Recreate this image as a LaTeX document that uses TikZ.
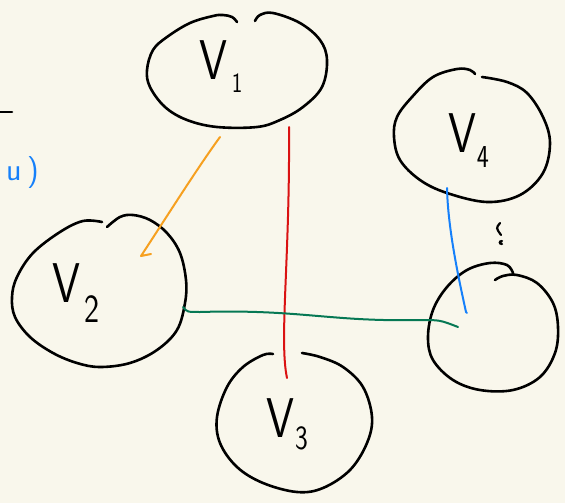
\documentclass[tikz,border=0pt]{standalone}
\usepackage{fontspec}
\definecolor{paper}{RGB}{249,247,236}
\definecolor{penorange}{RGB}{246,160,32}
\definecolor{penred}{RGB}{218,18,18}
\definecolor{pengreen}{RGB}{6,120,84}
\definecolor{penblue}{RGB}{22,128,250}
\newcommand\digitfont[1]{\fontsize{#1}{#1}\selectfont}
\begin{document}
\begin{tikzpicture}[x=1pt,y=-1pt,
  ink/.style={line width=2.6pt, line cap=round, line join=round},
  edge/.style={line width=2pt, line cap=round, line join=round},
  lbl/.style={font=\fontsize{56}{56}\selectfont\sffamily, inner sep=0pt, anchor=base west, xscale=0.8},
  hand/.style={smooth, tension=0.6}]
  \fill[paper] (0,0) rectangle (565,503);
  \useasboundingbox (0,0) rectangle (565,503);

  % vertex outlines
  \draw[ink] plot[hand] coordinates {(237,22) (232,17) (223,15) (213,16) (190,23) (167,37)
    (153,50) (147,70) (150,87) (165,107) (187,120) (217,127) (257,127) (280,120)
    (303,107) (322,87) (327,60) (320,40) (300,23) (273,13) (260,15) (255,21)};
  \draw[ink] plot[hand] coordinates {(102,222) (83,221) (60,232) (33,253) (17,277) (12,297)
    (15,317) (30,337) (53,353) (77,363) (100,367) (130,363) (157,350) (177,330)
    (185,303) (186,280) (180,253) (167,233) (150,220) (133,215) (120,217) (107,227)};
  \draw[ink] plot[hand] coordinates {(273,354) (263,355) (243,367) (227,387) (217,417)
    (220,443) (237,467) (263,483) (297,492) (323,488) (350,470) (367,443) (372,417)
    (363,387) (343,367) (320,357) (302,353)};
  \draw[ink] plot[hand] coordinates {(475,74) (470,70) (457,69) (433,77) (412,97) (397,117)
    (394,137) (400,160) (420,180) (447,193) (487,202) (520,195) (543,173) (550,143)
    (543,117) (527,93) (507,82) (482,77)};
  \draw[ink] plot[hand] coordinates {(513,273) (507,265) (490,263) (467,270) (447,287)
    (433,310) (428,337) (433,360) (453,380) (480,390) (513,390) (540,377) (555,353)
    (558,327) (553,303) (537,283) (517,275) (503,276) (495,280)};

  % vertex labels
  \node[lbl] (l1) at (199,80) {V\hspace{6pt}\raisebox{-13pt}{\digitfont{28}1}};
  \node[lbl] (l2) at (52,302) {V\hspace{5pt}\raisebox{-20pt}{\digitfont{40}2}};
  \node[lbl] (l3) at (266,437) {V\hspace{2pt}\raisebox{-12pt}{\digitfont{34}3}};
  \node[lbl] (l4) at (448,152) {V\hspace{1pt}\raisebox{-15pt}{\digitfont{32}4}};

  % connector end points
  \coordinate (o1) at (220,137);
  \coordinate (o2) at (141,256);
  \coordinate (o3) at (151,254);
  \coordinate (r1) at (289,127);
  \coordinate (r2) at (287,378);
  \coordinate (g1) at (183,307);
  \coordinate (g2) at (458,327);
  \coordinate (b1) at (447,188);
  \coordinate (b2) at (466,312);

  % connectors
  \draw[edge, penorange] (o1) .. controls (196,170) and (166,218) .. (o2) -- (o3);
  \draw[edge, penred] (r1) .. controls (290,260) and (279,340) .. (r2);
  \draw[edge, pengreen] (g1) .. controls (187,312) .. (200,312)
    .. controls (300,309) and (330,322) .. (420,320)
    .. controls (440,320) .. (g2);
  \draw[edge, penblue] (b1) .. controls (448,230) and (459,280) .. (b2) -- (467,313);

  % marks at the left edge and between the right-hand vertices
  \coordinate (d1) at (0,112);
  \coordinate (d2) at (12,112);
  \draw[ink] (d1) -- (d2);
  \node[font=\fontsize{32}{32}\selectfont\sffamily, text=penblue, inner sep=0pt,
    anchor=base west] (uu) at (6,180) {u\,)};
  \coordinate (q1) at (500,223);
  \coordinate (q2) at (501,235);
  \draw[line width=2.2pt, line cap=round] (q1) .. controls (496,228) .. (q2);
  \draw[line width=2.2pt, line cap=round] (502,241) .. controls (499,241) and (499,244) .. (502,244);
\end{tikzpicture}
\end{document}
